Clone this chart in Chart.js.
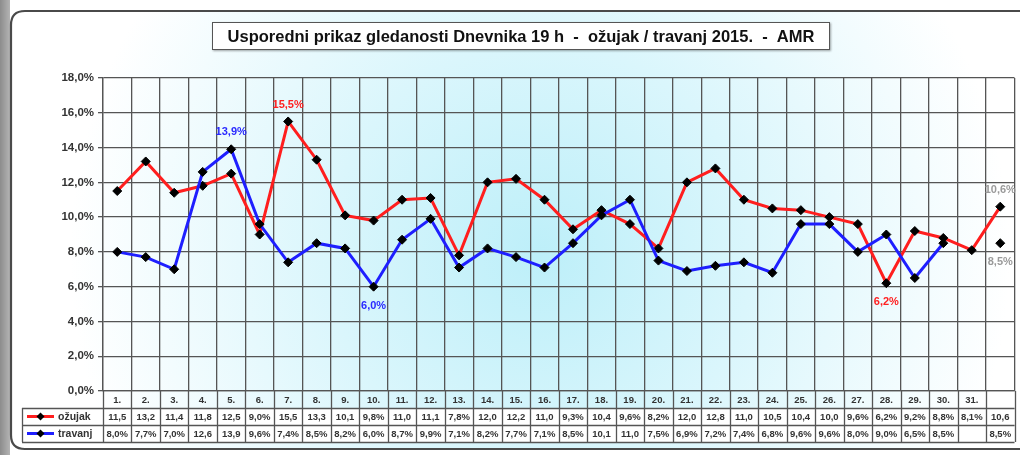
<!DOCTYPE html>
<html><head><meta charset="utf-8">
<script src="https://cdn.jsdelivr.net/npm/chart.js@4/dist/chart.umd.min.js"></script>
<style>html,body{margin:0;padding:0;background:#fff;overflow:hidden}#wrap{width:1020px;height:455px;position:relative}</style>
</head><body><div id="wrap"><canvas id="c" width="1020" height="455"></canvas></div>
<script>
const titleText = 'Usporedni prikaz gledanosti Dnevnika 19 h  -  ožujak / travanj 2015.  -  AMR';
const categories = ['1.','2.','3.','4.','5.','6.','7.','8.','9.','10.','11.','12.','13.','14.','15.','16.','17.','18.','19.','20.','21.','22.','23.','24.','25.','26.','27.','28.','29.','30.','31.',''];
const seriesNames = ['ožujak','travanj'];
const ozujak = [11.5,13.2,11.4,11.8,12.5,9.0,15.5,13.3,10.1,9.8,11.0,11.1,7.8,12.0,12.2,11.0,9.3,10.4,9.6,8.2,12.0,12.8,11.0,10.5,10.4,10.0,9.6,6.2,9.2,8.8,8.1,10.6];
const travanj = [8.0,7.7,7.0,12.6,13.9,9.6,7.4,8.5,8.2,6.0,8.7,9.9,7.1,8.2,7.7,7.1,8.5,10.1,11.0,7.5,6.9,7.2,7.4,6.8,9.6,9.6,8.0,9.0,6.5,8.5,null,8.5];
const yMin = 0, yMax = 18, yStep = 2;
// highlighted point labels: [series index, point index, colour, above?]
const callouts = [[1,4,'#2a2aff',true],[0,6,'#ff2020',true],[1,9,'#2a2aff',false],[0,27,'#ff2020',false],[0,31,'#9a9a9a',true],[1,31,'#9a9a9a',false]];

const FONT = "'Liberation Sans', Arial, sans-serif";
const fmtPct = v => v.toFixed(1).replace('.', ',') + '%';
const fmtCell = v => v == null ? '' : (v >= 10 ? v.toFixed(1).replace('.', ',') : fmtPct(v));
const lineColors = ['#ff1e1e', '#1e1eff'];
const seriesData = [ozujak, travanj];

function roundRect(ctx, x, y, w, h, r) {
  ctx.beginPath();
  ctx.moveTo(x + r, y);
  ctx.lineTo(x + w - r, y); ctx.quadraticCurveTo(x + w, y, x + w, y + r);
  ctx.lineTo(x + w, y + h - r); ctx.quadraticCurveTo(x + w, y + h, x + w - r, y + h);
  ctx.lineTo(x + r, y + h); ctx.quadraticCurveTo(x, y + h, x, y + h - r);
  ctx.lineTo(x, y + r); ctx.quadraticCurveTo(x, y, x + r, y);
  ctx.closePath();
}

const framePlugin = {
  id: 'frame',
  beforeDraw(chart) {
    const ctx = chart.ctx;
    ctx.save();
    ctx.fillStyle = '#ffffff';
    ctx.fillRect(0, 0, 1020, 455);
    const lg = ctx.createLinearGradient(0, 0, 10, 0);
    lg.addColorStop(0, '#8c8c8c'); lg.addColorStop(1, '#b4b4b4');
    ctx.fillStyle = lg;
    ctx.fillRect(0, 0, 10, 455);
    roundRect(ctx, 11, 11, 1030, 438, 14);
    const rg = ctx.createRadialGradient(540, 255, 0, 540, 255, 470);
    rg.addColorStop(0, '#bdeff9');
    rg.addColorStop(0.45, '#daf6fc');
    rg.addColorStop(1, '#ffffff');
    ctx.fillStyle = rg;
    ctx.fill();
    ctx.lineWidth = 2.2;
    ctx.strokeStyle = '#4a4a4a';
    ctx.stroke();
    const ca = chart.chartArea;
    ctx.fillStyle = '#ffffff';
    ctx.fillRect(ca.left, ca.bottom + 17, ca.right - ca.left, 34);
    ctx.fillRect(22, ca.bottom + 17, ca.left - 22, 34);
    ctx.restore();
  },
  afterDraw(chart) {
    const ctx = chart.ctx;
    const ca = chart.chartArea;
    const xs = chart.scales.x;
    ctx.save();
    // title box
    ctx.shadowColor = 'rgba(0,0,0,0.35)';
    ctx.shadowOffsetX = 1; ctx.shadowOffsetY = 1; ctx.shadowBlur = 2;
    ctx.fillStyle = '#ffffff';
    ctx.fillRect(212, 22, 618, 28);
    ctx.shadowColor = 'transparent';
    ctx.strokeStyle = '#555';
    ctx.lineWidth = 1;
    ctx.strokeRect(212.5, 22.5, 617, 27);
    ctx.fillStyle = '#111';
    ctx.font = 'bold 16.5px ' + FONT;
    ctx.textAlign = 'center';
    ctx.textBaseline = 'middle';
    const tw = ctx.measureText(titleText).width;
    const sx = Math.min(1, 596 / tw);
    ctx.save();
    ctx.translate(521, 37);
    ctx.scale(sx, 1);
    ctx.fillText(titleText, 0, 0);
    ctx.restore();

    // data table
    const rowH = 17;
    const top = ca.bottom;
    const n = categories.length;
    const step = (ca.right - ca.left) / n;
    ctx.strokeStyle = '#555';
    ctx.lineWidth = 1.3;
    ctx.beginPath();
    for (let i = 0; i <= n; i++) {
      const x = Math.round(ca.left + i * step) + 0.5;
      ctx.moveTo(x, top); ctx.lineTo(x, top + 3 * rowH);
    }
    for (let r = 1; r <= 3; r++) {
      const y = top + r * rowH + 0.5;
      ctx.moveTo(22, y); ctx.lineTo(ca.right, y);
    }
    ctx.moveTo(22.5, top + rowH); ctx.lineTo(22.5, top + 3 * rowH);
    ctx.stroke();

    ctx.font = 'bold 9.5px ' + FONT;
    ctx.fillStyle = '#333';
    ctx.textAlign = 'center';
    ctx.textBaseline = 'middle';
    for (let s = 0; s < 2; s++) {
      const y = top + (s + 1) * rowH + rowH / 2 + 1;
      for (let i = 0; i < n; i++) {
        ctx.fillText(fmtCell(seriesData[s][i]), xs.getPixelForValue(i), y);
      }
      ctx.strokeStyle = lineColors[s];
      ctx.lineWidth = 3;
      ctx.beginPath(); ctx.moveTo(27, y - 1); ctx.lineTo(54, y - 1); ctx.stroke();
      ctx.fillStyle = '#000';
      ctx.beginPath();
      ctx.moveTo(40.5, y - 5); ctx.lineTo(44.5, y - 1); ctx.lineTo(40.5, y + 3); ctx.lineTo(36.5, y - 1);
      ctx.closePath(); ctx.fill();
      ctx.fillStyle = '#333';
      ctx.font = 'bold 10.5px ' + FONT;
      ctx.textAlign = 'left';
      ctx.fillText(seriesNames[s], 58, y);
      ctx.font = 'bold 9.5px ' + FONT;
      ctx.textAlign = 'center';
    }
    ctx.restore();
  },
  afterDatasetsDraw(chart) {
    const ctx = chart.ctx;
    ctx.save();
    ctx.font = 'bold 11px ' + FONT;
    ctx.textAlign = 'center';
    ctx.textBaseline = 'middle';
    callouts.forEach(([s, i, col, above]) => {
      const el = chart.getDatasetMeta(s).data[i];
      ctx.fillStyle = col;
      ctx.fillText(fmtPct(seriesData[s][i]), el.x, el.y + (above ? -17 : 19));
    });
    ctx.restore();
  }
};

new Chart(document.getElementById('c'), {
  type: 'line',
  data: {
    labels: categories,
    datasets: seriesData.map((d, k) => ({
      label: seriesNames[k],
      data: d,
      borderColor: lineColors[k],
      borderWidth: 3,
      pointStyle: 'rectRot',
      pointRadius: 4.5,
      pointBackgroundColor: '#000',
      pointBorderColor: '#000',
      pointBorderWidth: 1,
      tension: 0,
      spanGaps: false,
      order: 1 - k
    }))
  },
  options: {
    responsive: false,
    devicePixelRatio: 1,
    animation: false,
    events: [],
    layout: { padding: { left: 22, right: 5, top: 78, bottom: 13 } },
    plugins: { legend: { display: false }, tooltip: { enabled: false }, title: { display: false } },
    scales: {
      x: {
        type: 'category',
        offset: true,
        grid: { offset: true, color: '#555', lineWidth: 1.3, drawTicks: false },
        border: { color: '#555', width: 1.3 },
        ticks: { font: { family: FONT, size: 9.5, weight: 'bold' }, color: '#333', padding: 4, maxRotation: 0, autoSkip: false },
        afterFit(s) { s.height = 51; }
      },
      y: {
        min: yMin, max: yMax,
        grid: { color: '#555', lineWidth: 1.3, tickLength: 5 },
        border: { color: '#555', width: 1.3 },
        ticks: { stepSize: yStep, callback: v => fmtPct(v), font: { family: FONT, size: 11.5, weight: 'bold' }, color: '#333', padding: 4 },
        afterFit(s) { s.width = 81; }
      }
    }
  },
  plugins: [framePlugin]
});
</script></body></html>
